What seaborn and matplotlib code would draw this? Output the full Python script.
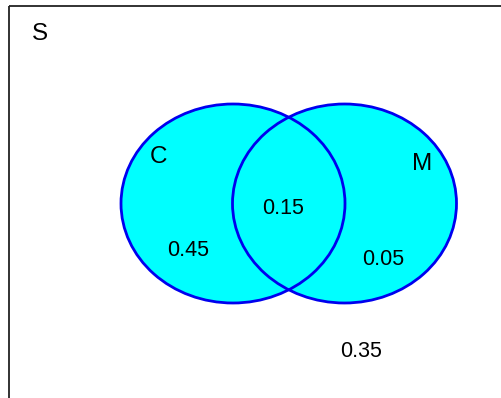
import matplotlib
matplotlib.use("Agg")
import matplotlib.pyplot as plt
from matplotlib.patches import Ellipse, Rectangle
import seaborn as sns
import pandas as pd

# Data
set_names = ["C", "M"]
region_labels = ["C only", "C and M", "M only", "neither"]
region_values = [0.45, 0.15, 0.05, 0.35]
universe_label = "S"

sns.set_theme(style="white")
plt.rcParams['font.family'] = ['Liberation Sans', 'DejaVu Sans']

fig = plt.figure(figsize=(5.01, 3.98), dpi=100)
ax = fig.add_axes([0, 0, 1, 1])
ax.set_xlim(0, 501)
ax.set_ylim(398, 0)
ax.axis("off")

# layout (pixel-like coordinates, text anchored at baseline)
centers = [(233, 203.5), (344.5, 203.5)]
w, h = 224, 199
name_pos = [(158.5, 163), (422, 170)]
value_pos = [(188, 255.5), (283, 214.5), (383, 265), (361, 357)]

# universe box (only top and left edges fall inside the canvas)
ax.add_patch(Rectangle((9, 5.5), 600, 500, fill=False, edgecolor="#222222", lw=1.3))
ax.text(39.5, 39.5, universe_label, ha="center", va="baseline", fontsize=17.5, color="black")

# fills first, then outlines
for c in centers:
    ax.add_patch(Ellipse(c, w, h, facecolor="#00FFFF", edgecolor="none", zorder=2))
for c in centers:
    ax.add_patch(Ellipse(c, w, h, facecolor="none", edgecolor="#0000EE", lw=2, zorder=3))

for name, (x, y) in zip(set_names, name_pos):
    ax.text(x, y, name, ha="center", va="baseline", fontsize=17.5, color="black", zorder=4)

df = pd.DataFrame({"region": region_labels, "value": region_values,
                   "x": [p[0] for p in value_pos], "y": [p[1] for p in value_pos]})
for _, r in df.iterrows():
    ax.text(r["x"], r["y"], f"{r['value']:.2f}", ha="center", va="baseline",
            fontsize=15.5, color="black", zorder=4)

fig.savefig("out.png", dpi=100)
